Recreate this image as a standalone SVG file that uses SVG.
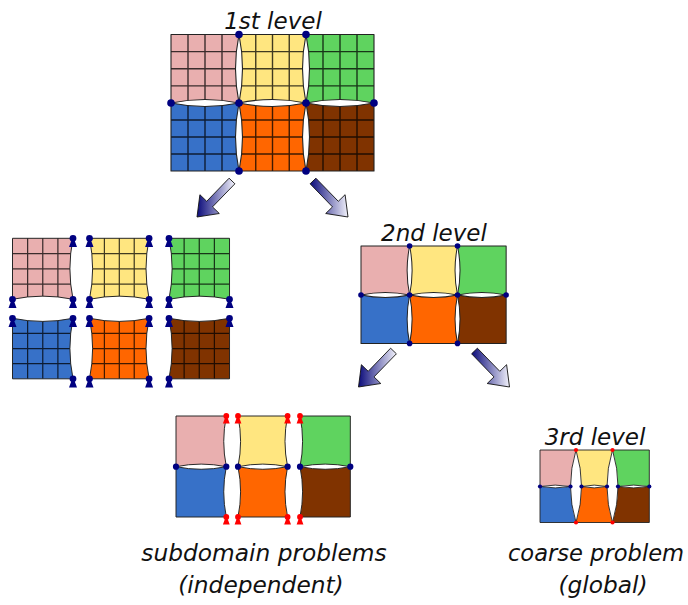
<svg xmlns="http://www.w3.org/2000/svg" width="688" height="605" viewBox="0 0 688 605">
<style>
.pk{fill:#e9afaf}.yl{fill:#ffe680}.gr{fill:#5fd35f}.bl{fill:#3771c8}.or{fill:#ff6600}.br{fill:#803300}
.ol{fill:none;stroke:#222;stroke-width:1.1;stroke-linejoin:round}
.grid{fill:none;stroke:#000;stroke-opacity:0.75;stroke-width:1.4}
.nv{fill:#000080}.rd{fill:#ff0000}
.lbl{font-family:"DejaVu Sans","Liberation Sans",sans-serif;font-style:italic;font-size:23px;fill:#111;text-anchor:middle}
.cap{font-size:23.3px}
.arr{stroke:#111;stroke-width:0.9;stroke-linejoin:miter}
</style>
<defs>
<linearGradient id="ag" x1="0" y1="0" x2="1" y2="0">
<stop offset="0" stop-color="#0b0b7a"/>
<stop offset="1" stop-color="#f2f2fb"/>
</linearGradient>
<path id="pawn" d="M0,-3.4a3.4,3.4 0 1 1 0,6.8a3.4,3.4 0 1 1 0,-6.8ZM-1.5,2L1.5,2L4,8.8L-4,8.8Z"/>
<path id="s-pink" d="M171,34.5L239,34.5Q232,68.75 239,103Q205,96 171,103Z"/>
<path id="s-yell" d="M239,34.5L306,34.5Q299,68.75 306,103Q272.5,96 239,103Q246,68.75 239,34.5Z"/>
<path id="s-gree" d="M306,34.5L374,34.5L374,103Q340,96 306,103Q313,68.75 306,34.5Z"/>
<path id="s-blue" d="M171,103Q205,110 239,103Q232,137 239,171L171,171Z"/>
<path id="s-oran" d="M239,103Q272.5,110 306,103Q299,137 306,171L239,171Q246,137 239,103Z"/>
<path id="s-brow" d="M306,103Q340,110 374,103L374,171L306,171Q313,137 306,103Z"/>
<clipPath id="c-pink"><use href="#s-pink"/></clipPath>
<clipPath id="c-yell"><use href="#s-yell"/></clipPath>
<clipPath id="c-gree"><use href="#s-gree"/></clipPath>
<clipPath id="c-blue"><use href="#s-blue"/></clipPath>
<clipPath id="c-oran"><use href="#s-oran"/></clipPath>
<clipPath id="c-brow"><use href="#s-brow"/></clipPath>
<g id="p-pink"><use class="pk" href="#s-pink"/><path class="grid" clip-path="url(#c-pink)" d="M188,30V107M205,30V107M222,30V107M165,51.6H245M165,68.75H245M165,85.9H245"/><use class="ol" href="#s-pink"/></g>
<g id="p-yell"><use class="yl" href="#s-yell"/><path class="grid" clip-path="url(#c-yell)" d="M255.75,30V107M272.5,30V107M289.25,30V107M235,51.6H310M235,68.75H310M235,85.9H310"/><use class="ol" href="#s-yell"/></g>
<g id="p-gree"><use class="gr" href="#s-gree"/><path class="grid" clip-path="url(#c-gree)" d="M323,30V107M340,30V107M357,30V107M302,51.6H378M302,68.75H378M302,85.9H378"/><use class="ol" href="#s-gree"/></g>
<g id="p-blue"><use class="bl" href="#s-blue"/><path class="grid" clip-path="url(#c-blue)" d="M188,99V175M205,99V175M222,99V175M165,120H245M165,137H245M165,154H245"/><use class="ol" href="#s-blue"/></g>
<g id="p-oran"><use class="or" href="#s-oran"/><path class="grid" clip-path="url(#c-oran)" d="M255.75,99V175M272.5,99V175M289.25,99V175M235,120H310M235,137H310M235,154H310"/><use class="ol" href="#s-oran"/></g>
<g id="p-brow"><use class="br" href="#s-brow"/><path class="grid" clip-path="url(#c-brow)" d="M323,99V175M340,99V175M357,99V175M302,120H378M302,137H378M302,154H378"/><use class="ol" href="#s-brow"/></g>
</defs>

<g id="level1">
<text class="lbl" x="273" y="29">1st level</text>
<use href="#p-pink"/><use href="#p-yell"/><use href="#p-gree"/>
<use href="#p-blue"/><use href="#p-oran"/><use href="#p-brow"/>
<g class="nv">
<circle cx="239" cy="34.5" r="3.8"/><circle cx="306" cy="34.5" r="3.8"/>
<circle cx="171" cy="103" r="3.8"/><circle cx="239" cy="103" r="3.8"/><circle cx="306" cy="103" r="3.8"/><circle cx="374" cy="103" r="3.8"/>
<circle cx="239" cy="171" r="3.8"/><circle cx="306" cy="171" r="3.8"/>
</g>
</g>

<g id="split">
<use href="#p-pink" transform="translate(12.5,238.3) scale(0.89) translate(-171,-34.5)"/>
<use href="#p-yell" transform="translate(89.5,238.3) scale(0.89) translate(-239,-34.5)"/>
<use href="#p-gree" transform="translate(169,238.3) scale(0.89) translate(-306,-34.5)"/>
<use href="#p-blue" transform="translate(12.5,318.3) scale(0.89) translate(-171,-103)"/>
<use href="#p-oran" transform="translate(89.5,318.3) scale(0.89) translate(-239,-103)"/>
<use href="#p-brow" transform="translate(169,318.3) scale(0.89) translate(-306,-103)"/>
<g class="nv">
<use href="#pawn" x="73" y="238.3"/><use href="#pawn" x="12.5" y="299.3"/><use href="#pawn" x="73" y="299.3"/>
<use href="#pawn" x="89.5" y="238.3"/><use href="#pawn" x="149.1" y="238.3"/><use href="#pawn" x="89.5" y="299.3"/><use href="#pawn" x="149.1" y="299.3"/>
<use href="#pawn" x="169" y="238.3"/><use href="#pawn" x="169" y="299.3"/><use href="#pawn" x="229.5" y="299.3"/>
<use href="#pawn" x="12.5" y="318.3"/><use href="#pawn" x="73" y="318.3"/><use href="#pawn" x="73" y="378.8"/>
<use href="#pawn" x="89.5" y="318.3"/><use href="#pawn" x="149.1" y="318.3"/><use href="#pawn" x="89.5" y="378.8"/><use href="#pawn" x="149.1" y="378.8"/>
<use href="#pawn" x="169" y="318.3"/><use href="#pawn" x="229.5" y="318.3"/><use href="#pawn" x="169" y="378.8"/>
</g>
</g>

<g id="level2">
<text class="lbl" x="434" y="241">2nd level</text>
<g transform="translate(361,246) scale(0.715) translate(-171,-34.5)">
<use class="pk" href="#s-pink"/><use class="yl" href="#s-yell"/><use class="gr" href="#s-gree"/>
<use class="bl" href="#s-blue"/><use class="or" href="#s-oran"/><use class="br" href="#s-brow"/>
<use class="ol" href="#s-pink" style="stroke-width:1.4"/><use class="ol" href="#s-yell" style="stroke-width:1.4"/><use class="ol" href="#s-gree" style="stroke-width:1.4"/>
<use class="ol" href="#s-blue" style="stroke-width:1.4"/><use class="ol" href="#s-oran" style="stroke-width:1.4"/><use class="ol" href="#s-brow" style="stroke-width:1.4"/>
</g>
<g class="nv">
<circle cx="409.6" cy="246" r="2.8"/><circle cx="457.5" cy="246" r="2.8"/>
<circle cx="361" cy="295" r="2.8"/><circle cx="409.6" cy="295" r="2.8"/><circle cx="457.5" cy="295" r="2.8"/><circle cx="506.1" cy="295" r="2.8"/>
<circle cx="409.6" cy="343.4" r="2.8"/><circle cx="457.5" cy="343.4" r="2.8"/>
</g>
</g>

<g id="subdomains">
<g transform="translate(176,416) scale(0.74) translate(-171,-34.5)">
<use class="pk" href="#s-pink"/><use class="bl" href="#s-blue"/><use class="ol" href="#s-pink" style="stroke-width:1.3"/><use class="ol" href="#s-blue" style="stroke-width:1.3"/>
</g>
<g transform="translate(238,416) scale(0.74) translate(-239,-34.5)">
<use class="yl" href="#s-yell"/><use class="or" href="#s-oran"/><use class="ol" href="#s-yell" style="stroke-width:1.3"/><use class="ol" href="#s-oran" style="stroke-width:1.3"/>
</g>
<g transform="translate(300,416) scale(0.74) translate(-306,-34.5)">
<use class="gr" href="#s-gree"/><use class="br" href="#s-brow"/><use class="ol" href="#s-gree" style="stroke-width:1.3"/><use class="ol" href="#s-brow" style="stroke-width:1.3"/>
</g>
<g class="nv">
<circle cx="176" cy="466.7" r="3.1"/><circle cx="226.3" cy="466.7" r="3.1"/><circle cx="238" cy="466.7" r="3.1"/>
<circle cx="287.6" cy="466.7" r="3.1"/><circle cx="300" cy="466.7" r="3.1"/><circle cx="350.3" cy="466.7" r="3.1"/>
</g>
<g class="rd">
<use href="#pawn" transform="translate(226.3,416) scale(0.85)"/><use href="#pawn" transform="translate(238,416) scale(0.85)"/>
<use href="#pawn" transform="translate(287.6,416) scale(0.85)"/><use href="#pawn" transform="translate(300,416) scale(0.85)"/>
<use href="#pawn" transform="translate(226.3,517) scale(0.85)"/><use href="#pawn" transform="translate(238,517) scale(0.85)"/>
<use href="#pawn" transform="translate(287.6,517) scale(0.85)"/><use href="#pawn" transform="translate(300,517) scale(0.85)"/>
</g>
<text class="lbl cap" x="264" y="561">subdomain problems</text>
<text class="lbl cap" x="261" y="593">(independent)</text>
</g>

<g id="level3">
<text class="lbl" x="595" y="445">3rd level</text>
<path class="pk" d="M540,450L576,450Q570.5,468.25 570.5,486.5Q555.25,483.7 540,486.5Z"/>
<path class="bl" d="M540,486.5Q555.25,489.3 570.5,486.5Q570.5,504.5 576,522.5L540,522.5Z"/>
<path class="yl" d="M576,450L612.5,450Q607,468.25 607,486.5Q594.25,483.7 581.5,486.5Q581.5,468.25 576,450Z"/>
<path class="or" d="M581.5,486.5Q594.25,489.3 607,486.5Q607,504.5 612.5,522.5L576,522.5Q581.5,504.5 581.5,486.5Z"/>
<path class="gr" d="M612.5,450L649.3,450L649.3,486.5Q633.65,483.7 618,486.5Q618,468.25 612.5,450Z"/>
<path class="br" d="M618,486.5Q633.65,489.3 649.3,486.5L649.3,522.5L612.5,522.5Q618,504.5 618,486.5Z"/>
<g class="ol" style="stroke-width:0.9">
<path d="M540,450L576,450Q570.5,468.25 570.5,486.5Q555.25,483.7 540,486.5Z"/>
<path d="M540,486.5Q555.25,489.3 570.5,486.5Q570.5,504.5 576,522.5L540,522.5Z"/>
<path d="M576,450L612.5,450Q607,468.25 607,486.5Q594.25,483.7 581.5,486.5Q581.5,468.25 576,450Z"/>
<path d="M581.5,486.5Q594.25,489.3 607,486.5Q607,504.5 612.5,522.5L576,522.5Q581.5,504.5 581.5,486.5Z"/>
<path d="M612.5,450L649.3,450L649.3,486.5Q633.65,483.7 618,486.5Q618,468.25 612.5,450Z"/>
<path d="M618,486.5Q633.65,489.3 649.3,486.5L649.3,522.5L612.5,522.5Q618,504.5 618,486.5Z"/>
</g>
<g class="rd">
<circle cx="576" cy="450" r="2.1"/><circle cx="612.5" cy="450" r="2.1"/><circle cx="576" cy="522.5" r="2.1"/><circle cx="612.5" cy="522.5" r="2.1"/>
</g>
<g class="nv">
<circle cx="540" cy="486.5" r="2.1"/><circle cx="570.5" cy="486.5" r="2.1"/><circle cx="581.5" cy="486.5" r="2.1"/>
<circle cx="607" cy="486.5" r="2.1"/><circle cx="618" cy="486.5" r="2.1"/><circle cx="649.3" cy="486.5" r="2.1"/>
</g>
<text class="lbl cap" x="596" y="561" style="font-size:22.6px">coarse problem</text>
<text class="lbl cap" x="603" y="593">(global)</text>
</g>

<g id="connectors">
<g id="arrows-top">
<polygon class="arr" fill="url(#ag)" points="229.1,178.2 206.7,201.3 199.9,194.7 197,217 219.3,213.5 212.5,206.9 234.9,183.8"/>
<polygon class="arr" fill="url(#ag)" points="315.9,178.2 338.3,201.3 345.1,194.7 348,217 325.7,213.5 332.5,206.9 310.1,183.8"/>
</g>
<g id="arrows-bottom" transform="translate(161.5,170)">
<polygon class="arr" fill="url(#ag)" points="229.1,178.2 206.7,201.3 199.9,194.7 197,217 219.3,213.5 212.5,206.9 234.9,183.8"/>
<polygon class="arr" fill="url(#ag)" points="315.9,178.2 338.3,201.3 345.1,194.7 348,217 325.7,213.5 332.5,206.9 310.1,183.8"/>
</g>
</g>
</svg>
